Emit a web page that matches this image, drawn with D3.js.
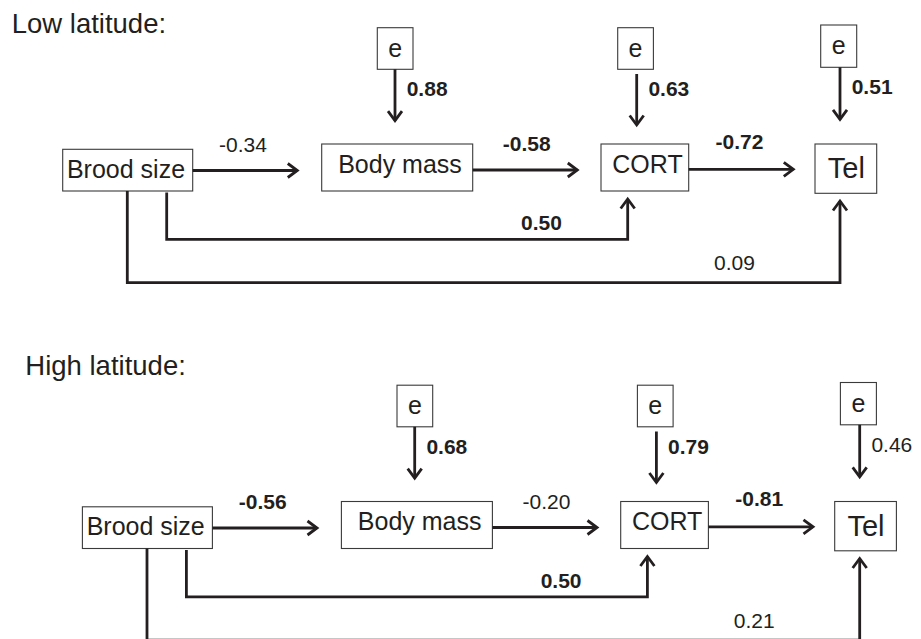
<!DOCTYPE html>
<html>
<head>
<meta charset="utf-8">
<script src="https://cdn.jsdelivr.net/npm/d3@7"></script>
<style>
  html, body { margin: 0; padding: 0; background: #fff; }
  svg { display: block; }
  text { font-family: "Liberation Sans", Arial, Helvetica, sans-serif; fill: #231f20; }
</style>
</head>
<body>
<script>
// ---------- DATA ----------
const panelTitles = ["Low latitude:", "High latitude:"];
const nodeNames = ["Brood size", "Body mass", "CORT", "Tel"];
const residualLabel = "e";
// paths: Brood->Body, Body->CORT, CORT->Tel, Brood->CORT, Brood->Tel
const pathFrom = ["Brood size", "Body mass", "CORT", "Brood size", "Brood size"];
const pathTo   = ["Body mass", "CORT", "Tel", "CORT", "Tel"];
const lowCoef  = ["-0.34", "-0.58", "-0.72", "0.50", "0.09"];
const lowSig   = [false, true, true, true, false];
const highCoef = ["-0.56", "-0.20", "-0.81", "0.50", "0.21"];
const highSig  = [true, false, true, true, false];
// residual (e) paths into Body mass, CORT, Tel
const residTargets = ["Body mass", "CORT", "Tel"];
const lowResid     = ["0.88", "0.63", "0.51"];
const lowResidSig  = [true, true, true];
const highResid    = ["0.68", "0.79", "0.46"];
const highResidSig = [true, true, false];

// ---------- LAYOUT ----------
const W = 921, H = 639;
const ink = "#231f20";
const svg = d3.select("body").append("svg").attr("width", W).attr("height", H);

const nodeLayout = {
  "Brood size": {x: 62.7, y: 149.3, w: 130, h: 41.7, tx: 126, ty: 177.7, fs: 25},
  "Body mass":  {x: 321.7, y: 144, w: 151, h: 47, tx: 400, ty: 172.7, fs: 25},
  "CORT":       {x: 601, y: 144, w: 87.7, h: 47, tx: 647.5, ty: 172.7, fs: 25},
  "Tel":        {x: 815, y: 144, w: 61.7, h: 49.3, tx: 846.3, ty: 178.3, fs: 29}
};
const eLayout = {
  "Body mass": {x: 377.3, y: 27.7, w: 35.7, h: 41.6, ax: 395, a1: 69.3, a2: 120.7, ly: 96},
  "CORT":      {x: 617.7, y: 27.7, w: 35.7, h: 41.6, ax: 636.7, a1: 74, a2: 125, ly: 96},
  "Tel":       {x: 820.7, y: 25, w: 36, h: 42.3, ax: 840, a1: 67.3, a2: 119.3, ly: 94}
};
const pathLayout = [
  {pts: [[192.7,170.5],[297.3,170.5]], lx: 243, ly: 151.5},
  {pts: [[472.7,170],[577.3,170]], lx: 526.8, ly: 151},
  {pts: [[688.7,169.3],[793.3,169.3]], lx: 739.5, ly: 148.5},
  {pts: [[166.7,192.5],[166.7,239.3],[627.7,239.3],[627.7,199]], lx: 541.4, ly: 230},
  {pts: [[127.3,191],[127.3,282.7],[840,282.7],[840,201]], lx: 734.5, ly: 270.3}
];
const panelLayout = [
  {dx: 0, dy: 0, titleX: 11.7, titleY: 33},
  {dx: 19.7, dy: 357.5, titleX: 25.3, titleY: 375}
];
const panelData = [
  {coef: lowCoef, sig: lowSig, resid: lowResid, residSig: lowResidSig},
  {coef: highCoef, sig: highSig, resid: highResid, residSig: highResidSig}
];

const line = d3.line();
function arrowHead(g, tip, prev) {
  const ang = Math.atan2(tip[1] - prev[1], tip[0] - prev[0]);
  const len = 9.5, half = 7;
  const bx = tip[0] - len * Math.cos(ang), by = tip[1] - len * Math.sin(ang);
  const px = -Math.sin(ang) * half, py = Math.cos(ang) * half;
  g.append("path")
    .attr("d", line([[bx + px, by + py], tip, [bx - px, by - py]]))
    .attr("fill", "none").attr("stroke", ink).attr("stroke-width", 2.8)
    .attr("stroke-linejoin", "miter").attr("stroke-miterlimit", 10);
}

panelTitles.forEach((title, pi) => {
  const L = panelLayout[pi], D = panelData[pi];
  svg.append("text").attr("x", L.titleX).attr("y", L.titleY)
    .attr("font-size", 27.5).text(title);

  const g = svg.append("g").attr("transform", `translate(${L.dx},${L.dy})`);

  // nodes
  nodeNames.forEach(n => {
    const b = nodeLayout[n];
    g.append("rect").attr("x", b.x).attr("y", b.y).attr("width", b.w).attr("height", b.h)
      .attr("fill", "#fff").attr("stroke", "#3a3a3a").attr("stroke-width", 1.1);
    g.append("text").attr("x", b.tx).attr("y", b.ty).attr("text-anchor", "middle")
      .attr("font-size", b.fs).text(n);
  });

  // residual boxes and arrows
  residTargets.forEach((n, i) => {
    const e = eLayout[n];
    g.append("rect").attr("x", e.x).attr("y", e.y).attr("width", e.w).attr("height", e.h)
      .attr("fill", "#fff").attr("stroke", "#3a3a3a").attr("stroke-width", 1.1);
    g.append("text").attr("x", e.x + e.w / 2).attr("y", e.y + e.h / 2 + 8)
      .attr("text-anchor", "middle").attr("font-size", 25).text(residualLabel);
    const pts = [[e.ax, e.a1], [e.ax, e.a2]];
    g.append("path").attr("d", line(pts)).attr("fill", "none")
      .attr("stroke", ink).attr("stroke-width", 2.8);
    arrowHead(g, pts[1], pts[0]);
    g.append("text").attr("x", e.ax + 11.7).attr("y", e.ly)
      .attr("font-size", 21).attr("font-weight", D.residSig[i] ? "bold" : "normal")
      .text(D.resid[i]);
  });

  // structural paths
  pathFrom.forEach((f, i) => {
    const P = pathLayout[i];
    g.append("path").attr("d", line(P.pts)).attr("fill", "none")
      .attr("stroke", ink).attr("stroke-width", 2.8).attr("stroke-linejoin", "miter");
    const n = P.pts.length;
    arrowHead(g, P.pts[n - 1], P.pts[n - 2]);
    g.append("text").attr("x", P.lx).attr("y", P.ly).attr("text-anchor", "middle")
      .attr("font-size", 21).attr("font-weight", D.sig[i] ? "bold" : "normal")
      .text(D.coef[i]);
  });
});
</script>
</body>
</html>
